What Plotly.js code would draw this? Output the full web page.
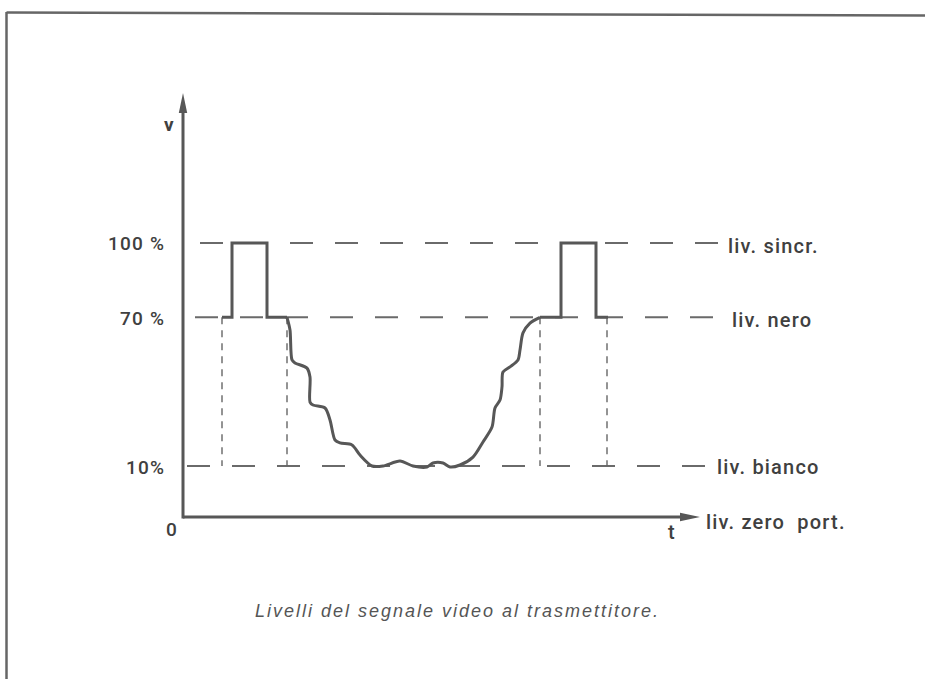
<!DOCTYPE html>
<html>
<head>
<meta charset="utf-8">
<script src="https://cdn.plot.ly/plotly-3.0.1.min.js"></script>
<style>
  html, body { margin: 0; padding: 0; background: #fff; }
  #chart { width: 925px; height: 679px; }
  /* wide tracking like the printed lettering */
  .annotation-text { letter-spacing: 1.2px; }
  .gtitle { letter-spacing: 2px; }
</style>
</head>
<body>
<div id="chart"></div>
<script>
// ---- data -------------------------------------------------------------
// Signal levels (% of carrier amplitude)
const levelValues = [100, 70, 10, 0];
const levelNames = ['liv. sincr.', 'liv. nero', 'liv. bianco', 'liv. zero  port.'];
const levelTicks = ['100 %', '70 %', '10%', '0'];

// Left sync pulse (time units, %)
const pulse1T = [7.8, 9.8, 9.8, 16.8, 16.8, 20.8];
const pulse1V = [70, 70, 100, 100, 70, 70];

// Picture content between the pulses
const videoT = [20.8, 21.4, 21.8, 22.4, 24.8, 25.4, 25.4, 26.0, 28.4, 29.4, 30.4,
                31.4, 33.8, 35.4, 37.8, 40.0, 43.4, 46.0, 48.8, 50.0, 52.0,
                53.4, 55.4, 58.0, 60.0, 61.8, 62.4, 63.4, 63.8, 64.0, 65.4,
                67.0, 67.4, 68.0, 69.4, 71.4];
const videoV = [70, 64.9, 52.8, 51.6, 49.5, 45.9, 35.8, 34.6, 33.4, 28.6, 20.5,
                19.3, 18.5, 14.4, 10, 10, 12.0, 10, 9.6, 11.2, 11.2,
                9.6, 10.4, 13.6, 19.7, 25.7, 33.4, 36.6, 41.9, 47.9, 50.0,
                52.8, 56.8, 63.7, 67.7, 70];

// Right sync pulse
const pulse2T = [71.4, 75.6, 75.6, 82.6, 82.6, 85.0];
const pulse2V = [70, 70, 100, 100, 70, 70];

// Instants marked by thin vertical guides (black -> white span)
const guideTimes = [7.8, 20.8, 71.4, 84.8];

// ---- drawing geometry ---------------------------------------------------
const PX_PER_T = 5;          // horizontal scale
const PX_PER_PCT = 2.478;    // vertical scale
const ZERO_DRAW = -10.6;     // zero-carrier line drawn below white level (not to scale)
const AXIS_T_END = 103.4;
const AXIS_V_TOP = 160.5;
const X0 = -183 / PX_PER_T;
const X1 = (925 - 183) / PX_PER_T;
const Y1 = 10 + 466 / PX_PER_PCT;
const Y0 = 10 - (679 - 466) / PX_PER_PCT;

const drawnLevel = v => (v === 0 ? ZERO_DRAW : v);

const INK = '#575757';
const TEXT = '#404040';
const FONT = 'Roboto, Liberation Sans, Arial, sans-serif';
const CAPTION_FONT = 'Liberation Sans, Arial, sans-serif';

// extents of the dashed level lines (time units)
const levelLineStart = [3.4, 2.4, 0.8];
const levelLineEnd = [107.0, 108.4, 105.0];
// label placement
const levelLabelX = [108.6, 109.4, 106.4, 104.2];
const levelLabelShift = [-3, -3, -1, -5];
const tickLabelX = -3.2;

const traces = [];

// dashed level lines
for (let i = 0; i < 3; i++) {
  traces.push({
    type: 'scatter', mode: 'lines', hoverinfo: 'skip',
    x: [levelLineStart[i], levelLineEnd[i]],
    y: [levelValues[i], levelValues[i]],
    line: { color: '#6a6a6a', width: 2, dash: '23px,22px' }
  });
}

// vertical guides
guideTimes.forEach(t => {
  traces.push({
    type: 'scatter', mode: 'lines', hoverinfo: 'skip',
    x: [t, t], y: [levelValues[1], levelValues[2]],
    line: { color: '#666', width: 1.4, dash: '7px,6px' }
  });
});

// waveform
const wave = { color: INK, width: 3 };
traces.push({ type: 'scatter', mode: 'lines', x: pulse1T, y: pulse1V, line: wave, hoverinfo: 'skip' });
traces.push({ type: 'scatter', mode: 'lines', x: videoT, y: videoV,
              line: Object.assign({ shape: 'spline', smoothing: 0.8 }, wave), hoverinfo: 'skip' });
traces.push({ type: 'scatter', mode: 'lines', x: pulse2T, y: pulse2V, line: wave, hoverinfo: 'skip' });

// ---- axes with arrowheads ---------------------------------------------
const HEAD_LEN = 20, HEAD_HALF = 4.2;
const xHeadBase = AXIS_T_END - HEAD_LEN / PX_PER_T;
const yHeadBase = AXIS_V_TOP - HEAD_LEN / PX_PER_PCT;
const shapes = [
  { type: 'line', xref: 'x', yref: 'y', x0: 0, y0: ZERO_DRAW, x1: xHeadBase + 0.4, y1: ZERO_DRAW,
    line: { color: INK, width: 3 } },
  { type: 'line', xref: 'x', yref: 'y', x0: 0, y0: ZERO_DRAW - 0.6, x1: 0, y1: yHeadBase + 0.8,
    line: { color: INK, width: 3 } },
  { type: 'path', xref: 'x', yref: 'y', fillcolor: INK, line: { width: 0 },
    path: `M${xHeadBase},${ZERO_DRAW - HEAD_HALF / PX_PER_PCT} L${AXIS_T_END},${ZERO_DRAW} ` +
          `L${xHeadBase},${ZERO_DRAW + HEAD_HALF / PX_PER_PCT} Z` },
  { type: 'path', xref: 'x', yref: 'y', fillcolor: INK, line: { width: 0 },
    path: `M${-HEAD_HALF / PX_PER_T},${yHeadBase} L0,${AXIS_V_TOP} L${HEAD_HALF / PX_PER_T},${yHeadBase} Z` },
  // page frame
  { type: 'line', xref: 'paper', yref: 'paper', x0: 6.5 / 925, y0: 1 - 12.5 / 679, x1: 1, y1: 1 - 15.5 / 679,
    line: { color: '#666', width: 2.5 } },
  { type: 'line', xref: 'paper', yref: 'paper', x0: 6.5 / 925, y0: 1 - 12 / 679, x1: 6.5 / 925, y1: 0,
    line: { color: '#666', width: 2.5 } }
];

// ---- text -------------------------------------------------------------
const labelFont = (size) => ({ family: FONT, size: size, color: TEXT, weight: 500 });
const annotations = [];
levelValues.forEach((v, i) => {
  annotations.push({
    x: levelLabelX[i], y: drawnLevel(v), xref: 'x', yref: 'y', showarrow: false,
    xanchor: 'left', yanchor: 'middle', yshift: levelLabelShift[i],
    text: levelNames[i], font: labelFont(20)
  });
  if (v !== 0) {
    annotations.push({
      x: tickLabelX, y: v, xref: 'x', yref: 'y', showarrow: false,
      xanchor: 'right', yanchor: 'middle', yshift: -1,
      text: levelTicks[i], font: labelFont(19)
    });
  } else {
    annotations.push({
      x: 0, y: ZERO_DRAW, xref: 'x', yref: 'y', showarrow: false,
      xanchor: 'center', yanchor: 'middle', xshift: -11, yshift: -12,
      text: levelTicks[i], font: labelFont(19)
    });
  }
});
annotations.push({
  x: 0, y: AXIS_V_TOP, xref: 'x', yref: 'y', showarrow: false,
  xanchor: 'center', yanchor: 'middle', xshift: -14, yshift: -31,
  text: '<b>v</b>', font: labelFont(19)
});
annotations.push({
  x: AXIS_T_END, y: ZERO_DRAW, xref: 'x', yref: 'y', showarrow: false,
  xanchor: 'center', yanchor: 'middle', xshift: -28, yshift: -15,
  text: 't', font: labelFont(20)
});

const layout = {
  width: 925, height: 679,
  margin: { l: 0, r: 0, t: 0, b: 0, pad: 0 },
  paper_bgcolor: '#fff', plot_bgcolor: '#fff',
  showlegend: false,
  xaxis: { visible: false, range: [X0, X1], fixedrange: true },
  yaxis: { visible: false, range: [Y0, Y1], fixedrange: true },
  shapes: shapes,
  annotations: annotations,
  title: {
    text: '<i>Livelli del segnale video al trasmettitore.</i>',
    font: { family: CAPTION_FONT, size: 18, color: '#555' },
    xref: 'paper', yref: 'container',
    x: 457.5 / 925, xanchor: 'center',
    y: 1 - 611 / 679, yanchor: 'middle'
  }
};

Plotly.newPlot('chart', traces, layout, { staticPlot: true, displayModeBar: false });
</script>
</body>
</html>
